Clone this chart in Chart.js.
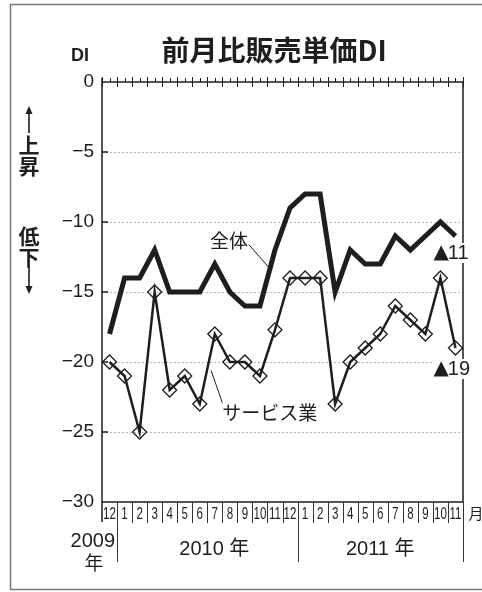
<!DOCTYPE html>
<html>
<head>
<meta charset="utf-8">
<script src="https://cdn.jsdelivr.net/npm/chart.js@4.4.1/dist/chart.umd.min.js"></script>
<style>
  html, body { margin: 0; padding: 0; background: #fff; }
  #wrap { width: 482px; height: 592px; position: relative; }
</style>
</head>
<body>
<div id="wrap"><canvas id="diChart" width="482" height="592"></canvas></div>
<script>
// data (2009/12 .. 2011/11)
const months = ["12","1","2","3","4","5","6","7","8","9","10","11","12","1","2","3","4","5","6","7","8","9","10","11"];
const totalDI = [-18,-14,-14,-12,-15,-15,-15,-13,-15,-16,-16,-12,-9,-8,-8,-15,-12,-13,-13,-11,-12,-11,-10,-11];
const serviceDI = [-20,-21,-25,-15,-22,-21,-23,-18,-20,-20,-21,-17.7,-14,-14,-14,-23,-20,-19,-18,-16,-17,-18,-14,-19];
const yTicks = [0,-5,-10,-15,-20,-25,-30];
const yearLabels = ["2009", "2010 年", "2011 年"];
const seriesNames = ["全体", "サービス業"];
const lastLabels = ["11", "19"];

const INK = "#1e1e1e";
const JP = '"Noto Sans CJK JP", "Noto Sans", sans-serif';
const LAT = '"Liberation Sans", Arial, sans-serif';
const TRI = '"DejaVu Sans", sans-serif';

function minus(v) { return v === 0 ? "0" : "\u2212" + Math.abs(v); }

const decor = {
  id: "decor",
  beforeDraw(chart) {
    const c = chart.ctx;
    c.save();
    c.fillStyle = "#fff";
    c.fillRect(0, 0, chart.width, chart.height);
    c.restore();
  },
  afterDatasetsDraw(chart) {
    const c = chart.ctx;
    const { left, right, top, bottom } = chart.chartArea;
    const x = chart.scales.x, y = chart.scales.y;
    c.save();

    // outer frame (right edge falls outside the picture)
    c.strokeStyle = "#777";
    c.lineWidth = 1.5;
    c.beginPath();
    c.moveTo(482, 4.5); c.lineTo(10.5, 4.5); c.lineTo(10.5, 589.5); c.lineTo(482, 589.5);
    c.stroke();

    // plot frame
    c.strokeStyle = INK;
    c.lineWidth = 1.5;
    c.beginPath();
    c.moveTo(left, top); c.lineTo(right, top); c.lineTo(right, bottom);
    c.moveTo(left, top - 4); c.lineTo(left, bottom + 20);
    c.moveTo(left, bottom); c.lineTo(right, bottom);
    c.stroke();

    // top ticks
    c.lineWidth = 1;
    c.beginPath();
    for (let i = 0; i < months.length; i++) {
      const cx = Math.round(x.getPixelForValue(i)) + 0.5;
      c.moveTo(cx, top - 4); c.lineTo(cx, top);
    }
    for (let i = 0; i <= months.length; i++) {
      const bx = Math.round(x.getPixelForValue(i - 0.5)) + 0.5;
      c.moveTo(bx, top - 5); c.lineTo(bx, top + 5);
    }
    c.stroke();

    // inner y ticks
    c.lineWidth = 1.5;
    c.beginPath();
    yTicks.forEach(v => {
      if (v === 0 || v === -30) return;
      const py = y.getPixelForValue(v);
      c.moveTo(left, py); c.lineTo(left + 6, py);
    });
    c.stroke();

    // month boxes
    c.lineWidth = 1;
    c.strokeStyle = "#333";
    c.beginPath();
    for (let i = 1; i <= months.length; i++) {
      const bx = Math.round(x.getPixelForValue(i - 0.5)) + 0.5;
      const long = (i === 1 || i === 13 || i === months.length);
      c.moveTo(bx, bottom); c.lineTo(bx, bottom + (long ? 60 : 21));
    }
    c.stroke();

    c.fillStyle = INK;
    c.font = "17px " + LAT;
    c.textAlign = "center";
    c.textBaseline = "middle";
    months.forEach((m, i) => {
      const cx = x.getPixelForValue(i);
      c.save();
      c.translate(cx, bottom + 12);
      c.scale(0.68, 1);
      c.fillText(m, 0, 0);
      c.restore();
    });
    c.font = "15px " + JP;
    c.fillText("月", right + 13, bottom + 11);

    // year labels
    c.font = "20px " + LAT;
    c.textAlign = "right";
    c.fillText(yearLabels[0], x.getPixelForValue(0.5) - 2, bottom + 39);
    c.font = "19px " + JP;
    c.textAlign = "center";
    c.fillText("年", 94, bottom + 61);
    c.font = "20px " + LAT + ", " + JP;
    c.fillText(yearLabels[1], (x.getPixelForValue(0.5) + x.getPixelForValue(12.5)) / 2 + 7, bottom + 47);
    c.fillText(yearLabels[2], (x.getPixelForValue(12.5) + x.getPixelForValue(23.5)) / 2, bottom + 47);

    // title and unit
    c.font = "bold 28px " + JP;
    c.fillText("前月比販売単価DI", 274, 50);
    c.font = "bold 18px " + LAT;
    c.fillText("DI", 80, 56);

    // up / down hints
    c.font = "bold 21px " + JP;
    c.fillText("上", 29, 145);
    c.fillText("昇", 29, 166);
    c.fillText("低", 29, 236);
    c.fillText("下", 29, 257);
    c.lineWidth = 1.6;
    c.strokeStyle = INK;
    c.beginPath();
    c.moveTo(29, 110); c.lineTo(29, 133);
    c.moveTo(29, 267); c.lineTo(29, 290);
    c.stroke();
    c.beginPath();
    c.moveTo(29, 106); c.lineTo(25.5, 114); c.lineTo(32.5, 114); c.closePath();
    c.moveTo(29, 294); c.lineTo(25.5, 286); c.lineTo(32.5, 286); c.closePath();
    c.fill();

    // series names with leader lines
    c.lineWidth = 1;
    c.beginPath();
    c.moveTo(x.getPixelForValue(9.25), y.getPixelForValue(-11.6));
    c.lineTo(x.getPixelForValue(10.55), y.getPixelForValue(-13.2));
    c.moveTo(x.getPixelForValue(6.75), y.getPixelForValue(-20.6));
    c.lineTo(x.getPixelForValue(7.5), y.getPixelForValue(-22.9));
    c.stroke();
    c.font = "19px " + JP;
    c.textAlign = "center";
    c.fillText(seriesNames[0], x.getPixelForValue(7.95), y.getPixelForValue(-11.35));
    c.textAlign = "left";
    c.fillText(seriesNames[1], x.getPixelForValue(7.5), y.getPixelForValue(-23.6));

    // latest values, marked with a triangle
    const lx = x.getPixelForValue(months.length - 1) - 22;
    [[totalDI, 17], [serviceDI, 21]].forEach(([arr, dy], k) => {
      const py = y.getPixelForValue(arr[arr.length - 1]) + dy;
      c.font = "20px " + TRI;
      const tw = c.measureText("▲").width;
      c.font = "20px " + LAT;
      const nw = c.measureText(lastLabels[k]).width;
      c.fillStyle = "#fff";
      c.fillRect(lx - 1, py - 10, tw + nw + 2, 20);
      c.fillStyle = INK;
      c.textAlign = "left";
      c.font = "20px " + TRI;
      c.fillText("▲", lx, py);
      c.font = "20px " + LAT;
      c.fillText(lastLabels[k], lx + tw - 1, py);
    });

    c.restore();
  }
};

new Chart(document.getElementById("diChart"), {
  type: "line",
  data: {
    labels: months,
    datasets: [
      {
        label: seriesNames[0],
        data: totalDI,
        borderColor: INK,
        borderWidth: 5,
        borderJoinStyle: "miter",
        pointRadius: 0,
        tension: 0,
        order: 2
      },
      {
        label: seriesNames[1],
        data: serviceDI,
        borderColor: INK,
        borderWidth: 2.5,
        tension: 0,
        pointStyle: "rectRot",
        pointRadius: 7,
        pointBorderWidth: 1.3,
        pointBorderColor: INK,
        pointBackgroundColor: "rgba(255,255,255,0)",
        order: 1
      }
    ]
  },
  options: {
    responsive: false,
    animation: false,
    devicePixelRatio: 1,
    layout: { padding: { left: 0, top: 82, right: 19, bottom: 0 } },
    plugins: { legend: { display: false }, tooltip: { enabled: false }, title: { display: false } },
    scales: {
      x: {
        type: "category",
        offset: true,
        grid: { display: false },
        border: { display: false },
        ticks: { display: false },
        afterFit: s => { s.height = 90; }
      },
      y: {
        min: -30,
        max: 0,
        afterBuildTicks: s => { s.ticks = yTicks.map(v => ({ value: v })); },
        afterFit: s => { s.width = 102; },
        grid: {
          drawTicks: false,
          lineWidth: 1,
          color: ctx => (ctx.tick && (ctx.tick.value === 0 || ctx.tick.value === -30)) ? "rgba(0,0,0,0)" : "#b5b5b5"
        },
        border: { display: false, dash: [2, 2] },
        ticks: {
          padding: 8,
          color: INK,
          font: { family: "Liberation Sans", size: 19 },
          callback: v => minus(v)
        }
      }
    }
  },
  plugins: [decor]
});
</script>
</body>
</html>
